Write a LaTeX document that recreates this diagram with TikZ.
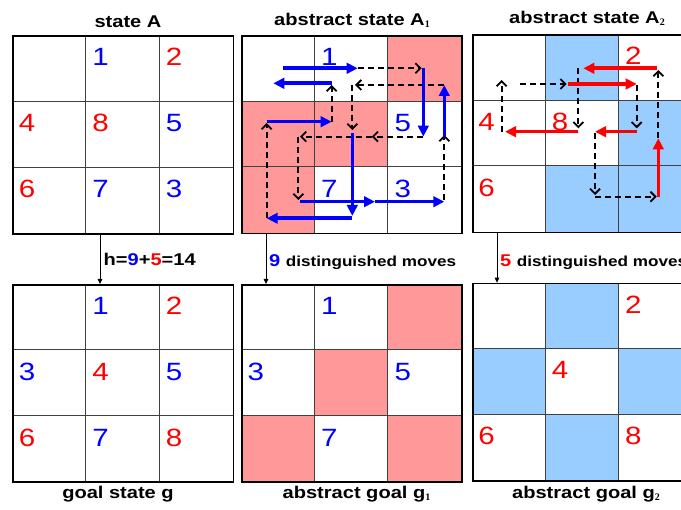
\documentclass[tikz,border=0pt]{standalone}
\usepackage{fontspec}
\setmainfont{Liberation Sans}
\newfontfamily\af[FakeStretch=1.18]{Liberation Sans}
\newfontfamily\subf{Liberation Serif}
\usetikzlibrary{arrows.meta,calc}
\definecolor{pinkc}{RGB}{255,153,153}
\definecolor{bluec}{RGB}{153,204,255}
\definecolor{dblue}{RGB}{0,0,255}
\definecolor{dred}{RGB}{255,0,0}
\tikzset{
 title/.style={font=\af\bfseries\fontsize{17}{20}\selectfont, anchor=base, inner sep=0pt},
 digit/.style={font=\af\fontsize{25}{30}\selectfont, anchor=base west, inner sep=0pt},
 gridbox/.style={draw=black, line width=1.8pt, anchor=north west, minimum width=220.2pt, minimum height=197.4pt, inner sep=0pt},
 innerl/.style={draw=black!75, line width=0.9pt},
 bmove/.style={draw=dblue, line width=3.6pt, -{Triangle[length=11pt,width=10.5pt]}},
 rmove/.style={draw=dred, line width=3.6pt, -{Triangle[length=11pt,width=10.5pt]}},
 blank/.style={draw=black, line width=1.8pt, dash pattern=on 6pt off 4pt, -{Straight Barb[length=5pt,width=10pt]}},
 downarr/.style={draw=black, line width=0.9pt, -{Triangle[length=5pt,width=4.5pt]}},
 lbl/.style={anchor=base west, inner sep=0pt},
}
\newcommand\mygrid[3]{%
  \foreach \k in {1,2}{
    \draw[innerl] (#1+\k*73.4,#2) -- (#1+\k*73.4,#2+197.4);
    \draw[innerl] (#1,#2+\k*65.8) -- (#1+220.2,#2+\k*65.8);
  }
  \node[gridbox] (#3) at (#1,#2) {};
}
\newcommand\cellfill[5]{\fill[#5] (#1+#3*73.4,#2+#4*65.8) rectangle ++(73.4,65.8);}
\newcommand\dig[7]{\node[digit,text=#5] (#7) at (#1+#3*73.4+6.5,#2+#4*65.8+30.5) {#6};}
\newcommand\subA[1]{\raisebox{-2pt}{\subf\fontsize{10}{11}\selectfont #1}}
\begin{document}
\begin{tikzpicture}[x=1pt,y=-1pt]
\useasboundingbox[fill=white] (0,0) rectangle (681,510);

% ---------- titles ----------
\node[title] (tA)  at (128,27.3) {state A};
\node[title] (tA1) at (352,25.5) {abstract state A\subA{1}};
\node[title] (tA2) at (587,23.8) {abstract state A\subA{2}};
\node[title] (tg)  at (118,498.3) {goal state g};
\node[title] (tg1) at (356.5,498.3) {abstract goal g\subA{1}};
\node[title] (tg2) at (586,498.3) {abstract goal g\subA{2}};

% ---------- state A ----------
\mygrid{12.3}{35.5}{gA}
\dig{12.3}{35.5}{1}{0}{dblue}{1}{a1}
\dig{12.3}{35.5}{2}{0}{dred}{2}{a2}
\dig{12.3}{35.5}{0}{1}{dred}{4}{a4}
\dig{12.3}{35.5}{1}{1}{dred}{8}{a8}
\dig{12.3}{35.5}{2}{1}{dblue}{5}{a5}
\dig{12.3}{35.5}{0}{2}{dred}{6}{a6}
\dig{12.3}{35.5}{1}{2}{dblue}{7}{a7}
\dig{12.3}{35.5}{2}{2}{dblue}{3}{a3}

% ---------- goal g ----------
\mygrid{12.3}{284}{gG}
\dig{12.3}{284}{1}{0}{dblue}{1}{g1}
\dig{12.3}{284}{2}{0}{dred}{2}{g2}
\dig{12.3}{284}{0}{1}{dblue}{3}{g3}
\dig{12.3}{284}{1}{1}{dred}{4}{g4}
\dig{12.3}{284}{2}{1}{dblue}{5}{g5}
\dig{12.3}{284}{0}{2}{dred}{6}{g6}
\dig{12.3}{284}{1}{2}{dblue}{7}{g7}
\dig{12.3}{284}{2}{2}{dred}{8}{g8}

% ---------- abstract state A1 ----------
\cellfill{241}{35.3}{2}{0}{pinkc}
\cellfill{241}{35.3}{0}{1}{pinkc}
\cellfill{241}{35.3}{1}{1}{pinkc}
\cellfill{241}{35.3}{0}{2}{pinkc}
\mygrid{241}{35.3}{gA1}
\dig{241}{35.3}{1}{0}{dblue}{1}{b1}
\dig{241}{35.3}{2}{1}{dblue}{5}{b5}
\dig{241}{35.3}{1}{2}{dblue}{7}{b7}
\dig{241}{35.3}{2}{2}{dblue}{3}{b3}

% moves in A1
\draw[blank] (357.7,68.3) -- (421.7,68.3);
\draw[blank] (444.3,85) -- (355,85);
\draw[blank] (352.3,85) -- (352.3,130);
\draw[blank] (331.7,121.7) -- (331.7,85);
\draw[blank] (423.3,136.7) -- (371.7,136.7);
\draw[blank] (371.7,136.7) -- (300,136.7);
\draw[blank] (298.3,136.7) -- (298.3,200);
\draw[blank] (444.3,200) -- (444.3,135);
\draw[blank] (266.7,218.3) -- (266.7,123);
\draw[bmove] (283.3,68.3) -- (357.7,68.3);
\draw[bmove] (331.7,83.3) -- (273.3,83.3);
\draw[bmove] (266.7,121.7) -- (331.7,121.7);
\draw[bmove] (423.3,68.3) -- (423.3,136.7);
\draw[bmove] (444.3,136.7) -- (444.3,85);
\draw[bmove] (352.3,133.3) -- (352.3,216);
\draw[bmove] (352.3,218.3) -- (266.7,218.3);
\draw[bmove] (300,201.7) -- (375,201.7);
\draw[bmove] (375,201.7) -- (444.3,201.7);

% ---------- abstract goal g1 ----------
\cellfill{241}{284}{2}{0}{pinkc}
\cellfill{241}{284}{1}{1}{pinkc}
\cellfill{241}{284}{0}{2}{pinkc}
\cellfill{241}{284}{2}{2}{pinkc}
\mygrid{241}{284}{gG1}
\dig{241}{284}{1}{0}{dblue}{1}{c1}
\dig{241}{284}{0}{1}{dblue}{3}{c3}
\dig{241}{284}{2}{1}{dblue}{5}{c5}
\dig{241}{284}{1}{2}{dblue}{7}{c7}

% ---------- abstract state A2 ----------
\cellfill{471.7}{34.3}{1}{0}{bluec}
\cellfill{471.7}{34.3}{2}{1}{bluec}
\cellfill{471.7}{34.3}{1}{2}{bluec}
\cellfill{471.7}{34.3}{2}{2}{bluec}
\mygrid{471.7}{34.3}{gA2}
\dig{471.7}{34.3}{2}{0}{dred}{2}{d2}
\dig{471.7}{34.3}{0}{1}{dred}{4}{d4}
\dig{471.7}{34.3}{1}{1}{dred}{8}{d8}
\dig{471.7}{34.3}{0}{2}{dred}{6}{d6}

% moves in A2
\draw[blank] (501.7,131.7) -- (501.7,80);
\draw[blank] (520,84) -- (566.7,84);
\draw[blank] (578.3,68.3) -- (578.3,128.3);
\draw[blank] (636.7,85) -- (636.7,128.3);
\draw[blank] (658.3,138) -- (658.3,70);
\draw[blank] (595,133.3) -- (595,195);
\draw[blank] (595,196.7) -- (656.7,196.7);
\draw[rmove] (656.7,68.3) -- (583.3,68.3);
\draw[rmove] (568.3,84) -- (636.7,84);
\draw[rmove] (578.3,131.7) -- (505,131.7);
\draw[rmove] (636.7,131.7) -- (595,131.7);
\draw[rmove] (658.3,196.7) -- (658.3,138.3);

% ---------- abstract goal g2 ----------
\cellfill{471.7}{282.7}{1}{0}{bluec}
\cellfill{471.7}{282.7}{0}{1}{bluec}
\cellfill{471.7}{282.7}{2}{1}{bluec}
\cellfill{471.7}{282.7}{1}{2}{bluec}
\mygrid{471.7}{282.7}{gG2}
\dig{471.7}{282.7}{2}{0}{dred}{2}{e2}
\dig{471.7}{282.7}{1}{1}{dred}{4}{e4}
\dig{471.7}{282.7}{0}{2}{dred}{6}{e6}
\dig{471.7}{282.7}{2}{2}{dred}{8}{e8}

% ---------- connectors between grids ----------
\draw[downarr] ($(gA.south west)+(87.7,0)$) -- ($(gG.north west)+(87.7,0)$);
\draw[downarr] ($(gA1.south west)+(25,0)$) -- ($(gG1.north west)+(25,0)$);
\draw[downarr] ($(gA2.south west)+(25.3,0)$) -- ($(gG2.north west)+(25.3,0)$);

% ---------- labels ----------
\node[lbl, font=\af\bfseries\fontsize{17}{20}\selectfont] (hval) at (103.5,265.5)
  {h=\textcolor{dblue}{9}+\textcolor{dred}{5}=14};
\node[lbl, font=\af\bfseries\fontsize{17}{20}\selectfont] (dm1) at (269,267)
  {\textcolor{dblue}{9} {\fontsize{14.5}{16}\selectfont distinguished moves}};
\node[lbl, font=\af\bfseries\fontsize{17}{20}\selectfont] (dm2) at (500,267)
  {\textcolor{dred}{5} {\fontsize{14.5}{16}\selectfont distinguished moves}};
\end{tikzpicture}
\end{document}
